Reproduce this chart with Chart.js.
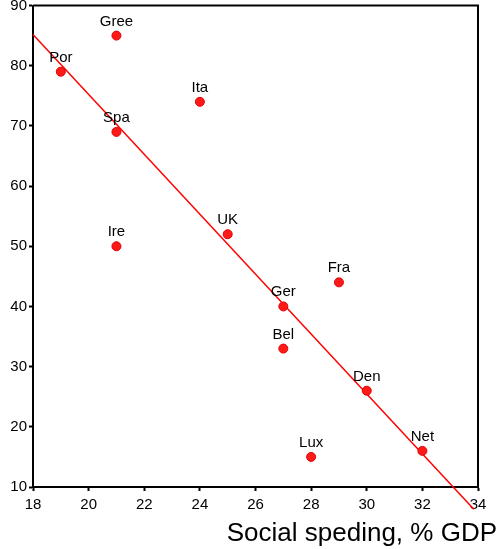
<!DOCTYPE html>
<html>
<head>
<meta charset="utf-8">
<script src="https://cdn.jsdelivr.net/npm/chart.js@4/dist/chart.umd.min.js"></script>
<style>
  html, body { margin: 0; padding: 0; background: #fff; }
  #wrap { width: 498px; height: 549px; position: relative; }
</style>
</head>
<body>
<div id="wrap"><canvas id="chart"></canvas></div>
<script>
// Data
const countries = ['Por', 'Gree', 'Spa', 'Ire', 'Ita', 'UK', 'Ger', 'Bel', 'Fra', 'Den', 'Lux', 'Net'];
const socialSpending = [19, 21, 21, 21, 24, 25, 27, 27, 29, 30, 28, 32];
const yValues = [79, 85, 69, 50, 74, 52, 40, 33, 44, 26, 15, 16];

// Fit line end points (as drawn in the picture)
const fitX = [18, 33.85];
const fitY = [85.2, 6.3];

const xTicks = [18, 20, 22, 24, 26, 28, 30, 32, 34];
const yTicks = [10, 20, 30, 40, 50, 60, 70, 80, 90];
const xTitle = 'Social speding, % GDP';

const FONT = 'Arial, "Liberation Sans", sans-serif';

// Labels over the points
const pointLabels = {
    id: 'pointLabels',
    afterDatasetsDraw(chart) {
        const ctx = chart.ctx;
        const meta = chart.getDatasetMeta(0);
        ctx.save();
        ctx.font = '15px ' + FONT;
        ctx.fillStyle = '#000';
        ctx.textAlign = 'center';
        ctx.textBaseline = 'alphabetic';
        meta.data.forEach((pt, i) => {
            ctx.fillText(countries[i], pt.x, pt.y - 10);
        });
        ctx.restore();
    }
};

// Frame on top/right and the axis title
const frame = {
    id: 'frame',
    beforeDatasetsDraw(chart) {
        const { ctx, chartArea: a } = chart;
        ctx.save();
        ctx.strokeStyle = '#000';
        ctx.lineWidth = 2;
        ctx.beginPath();
        ctx.moveTo(a.left, a.top);
        ctx.lineTo(a.right, a.top);
        ctx.lineTo(a.right, a.bottom);
        ctx.stroke();
        ctx.restore();
    },
    afterDraw(chart) {
        const ctx = chart.ctx;
        ctx.save();
        ctx.font = '26px ' + FONT;
        ctx.fillStyle = '#000';
        ctx.textAlign = 'right';
        ctx.textBaseline = 'alphabetic';
        ctx.fillText(xTitle, 497, 541);
        ctx.restore();
    }
};

new Chart(document.getElementById('chart'), {
    type: 'scatter',
    data: {
        datasets: [{
            label: 'Countries',
            data: socialSpending.map((x, i) => ({ x: x, y: yValues[i] })),
            backgroundColor: '#ff1a1a',
            borderColor: '#e00000',
            borderWidth: 1,
            pointRadius: 4.5,
            pointHoverRadius: 4.5,
            order: 1
        }, {
            label: 'Fit',
            type: 'line',
            data: fitX.map((x, i) => ({ x: x, y: fitY[i] })),
            borderColor: '#ff0000',
            borderWidth: 1.5,
            pointRadius: 0,
            fill: false,
            clip: false,
            order: 2
        }]
    },
    options: {
        responsive: true,
        maintainAspectRatio: false,
        animation: false,
        layout: { padding: { top: 5, right: 20, left: 0, bottom: 0 } },
        plugins: {
            legend: { display: false },
            tooltip: { enabled: false }
        },
        scales: {
            x: {
                type: 'linear',
                min: 18,
                max: 34,
                afterBuildTicks: scale => { scale.ticks = xTicks.map(v => ({ value: v })); },
                afterFit: scale => { scale.height = 62; scale.paddingLeft = 0; scale.paddingRight = 0; },
                grid: { drawOnChartArea: false, tickLength: 4, tickColor: '#000', tickWidth: 2 },
                border: { display: true, color: '#000', width: 2 },
                ticks: { color: '#000', font: { family: FONT, size: 15 }, padding: 5, maxRotation: 0 }
            },
            y: {
                type: 'linear',
                min: 10,
                max: 90,
                afterBuildTicks: scale => { scale.ticks = yTicks.map(v => ({ value: v })); },
                afterFit: scale => { scale.width = 33; scale.paddingTop = 0; scale.paddingBottom = 0; },
                grid: { drawOnChartArea: false, tickLength: 4, tickColor: '#000', tickWidth: 2 },
                border: { display: true, color: '#000', width: 2 },
                ticks: { color: '#000', font: { family: FONT, size: 15 }, padding: 2 }
            }
        }
    },
    plugins: [pointLabels, frame]
});
</script>
</body>
</html>
